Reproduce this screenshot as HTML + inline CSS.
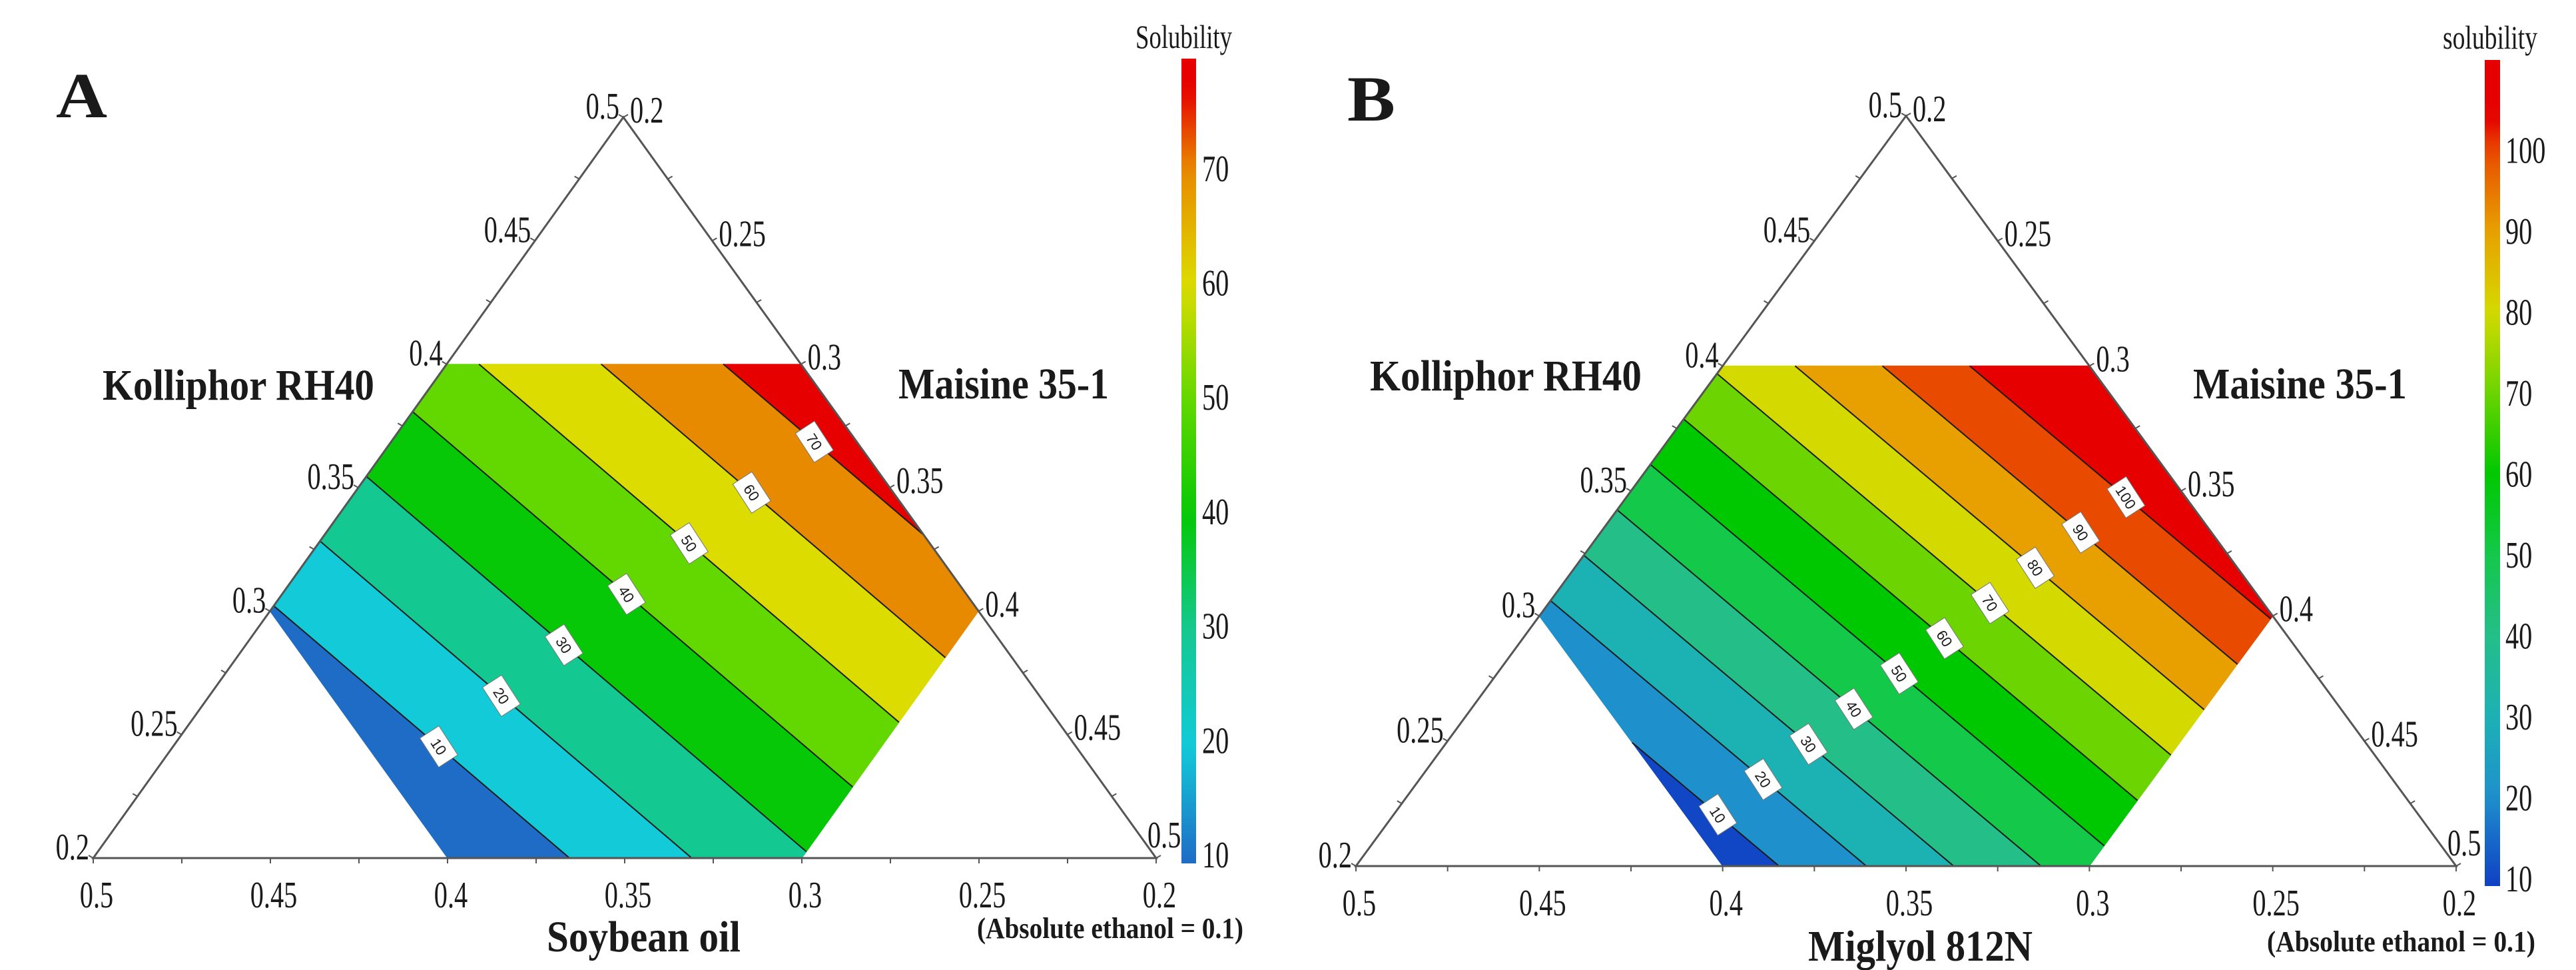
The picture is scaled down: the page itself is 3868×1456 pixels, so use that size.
<!DOCTYPE html>
<html><head><meta charset="utf-8">
<style>
html,body{margin:0;padding:0;background:#fff;}
svg{display:block;}
text{font-family:"Liberation Serif",serif;fill:#1a1a1a;}
</style></head>
<body>
<svg id="fig" width="3868" height="1456" viewBox="0 0 3868 1456" xmlns="http://www.w3.org/2000/svg">
<defs id="defs"></defs>
</svg>
<script>
// ---------- data ----------
const ternaryTicks = [0.2, 0.25, 0.3, 0.35, 0.4, 0.45, 0.5];
const modelA = [180.2, -91.7, -381.7];
const modelB = [263.1, -130.8, -550.8];
const contourLevelsA = [10, 20, 30, 40, 50, 60, 70];
const contourLevelsB = [10, 20, 30, 40, 50, 60, 70, 80, 90, 100];
const colorbarTicksA = [10, 20, 30, 40, 50, 60, 70];
const colorbarTicksB = [10, 20, 30, 40, 50, 60, 70, 80, 90, 100];
const colorbarRangeA = [9.9, 79.6];
const colorbarRangeB = [8.9, 111.2];
const cmapValuesA = [10, 20, 30, 40, 50, 60, 70, 77];
const cmapColorsA = ["#1f6cc6", "#12cad8", "#14c892", "#06c806", "#62d800", "#dcdc00", "#e88a00", "#e60000"];
const cmapValuesB = [9, 20, 30, 40, 50, 60, 70, 80, 90, 100, 104];
const cmapColorsB = ["#1040c4", "#1e90cc", "#1cb2b4", "#24be88", "#14c84a", "#00c800", "#6cd400", "#d4da00", "#e8a000", "#e84a00", "#e60000"];

const NS = "http://www.w3.org/2000/svg";
const svg = document.getElementById('fig');
const defs = document.getElementById('defs');
function el(tag, attrs, parent) {
  const e = document.createElementNS(NS, tag);
  for (const k in attrs) e.setAttribute(k, attrs[k]);
  (parent || svg).appendChild(e);
  return e;
}
function hex2rgb(h){return [parseInt(h.slice(1,3),16),parseInt(h.slice(3,5),16),parseInt(h.slice(5,7),16)];}
function cmap(vals, cols, v) {
  if (v <= vals[0]) return cols[0];
  if (v >= vals[vals.length-1]) return cols[cols.length-1];
  for (let i = 0; i < vals.length-1; i++) {
    if (v >= vals[i] && v <= vals[i+1]) {
      const t = (v-vals[i])/(vals[i+1]-vals[i]);
      const a = hex2rgb(cols[i]), b = hex2rgb(cols[i+1]);
      return 'rgb(' + a.map((x,j)=>Math.round(x+(b[j]-x)*t)).join(',') + ')';
    }
  }
}
function numW(s, fs) { let w = 0; for (const ch of s) w += (ch === '.' ? 0.25 : 0.5); return w*fs*0.72; }

function panel(cfg) {
  const g = el('g', {});
  
  
  const {BL, BR, AP} = cfg;
  const toXY = (K, M, S) => {
    const wK=(K-0.2)/0.3, wM=(M-0.2)/0.3, wS=(S-0.2)/0.3;
    return [wK*AP[0]+wM*BR[0]+wS*BL[0], wK*AP[1]+wM*BR[1]+wS*BL[1]];
  };
  const val = (K, M, S) => cfg.model[0] + cfg.model[1]*M + cfg.model[2]*S;
  const hexC = [[0.4,0.2,0.3],[0.4,0.3,0.2],[0.3,0.4,0.2],[0.2,0.4,0.3],[0.2,0.3,0.4],[0.3,0.2,0.4]];
  const hex = hexC.map(c => { const p = toXY(c[0],c[1],c[2]); return [p[0], p[1], val(c[0],c[1],c[2])]; });
  function clip(poly, lv, keepAbove) {
    const out = [];
    for (let i = 0; i < poly.length; i++) {
      const a = poly[i], b = poly[(i+1)%poly.length];
      const ia = keepAbove ? a[2] >= lv : a[2] < lv;
      const ib = keepAbove ? b[2] >= lv : b[2] < lv;
      if (ia) out.push(a);
      if (ia !== ib) {
        const t = (lv-a[2])/(b[2]-a[2]);
        out.push([a[0]+(b[0]-a[0])*t, a[1]+(b[1]-a[1])*t, lv]);
      }
    }
    return out;
  }
  const lv = cfg.levels;
  const bounds = [-1e9].concat(lv).concat([1e9]);
  const bandsG = el('g', {}, g);
  
  
  for (let i = 0; i < bounds.length-1; i++) {
    let poly = clip(hex, bounds[i], true);
    poly = clip(poly, bounds[i+1], false);
    if (poly.length < 3) continue;
    const colV = i < lv.length ? lv[i] : lv[lv.length-1] + 10;
    const band = el('polygon', {points: poly.map(p=>p[0].toFixed(1)+','+p[1].toFixed(1)).join(' '), fill: cmap(cfg.cv, cfg.cc, colV), stroke: cmap(cfg.cv, cfg.cc, colV), 'stroke-width': 1}, bandsG);
    
    
  }
  for (const L of lv) {
    const pts = [];
    for (let i = 0; i < hex.length; i++) {
      const a = hex[i], b = hex[(i+1)%hex.length];
      if ((a[2]-L)*(b[2]-L) < 0) { const t=(L-a[2])/(b[2]-a[2]); pts.push([a[0]+(b[0]-a[0])*t, a[1]+(b[1]-a[1])*t]); }
    }
    if (pts.length >= 2) {
      const ln = el('line', {x1: pts[0][0], y1: pts[0][1], x2: pts[1][0], y2: pts[1][1], stroke: '#1a1a1a', 'stroke-width': 2}, g);
      
      
    }
  }
  const tri = el('polygon', {points: [BL, BR, AP].map(p=>p.join(',')).join(' '), fill: 'none', stroke: '#555', 'stroke-width': 3}, g);
  
  
  for (let k = 0; k <= 12; k++) {
    const f = k/12;
    const sides = [[BL, BR, [0, 8]], [BL, AP, [-7, -4]], [AP, BR, [7, -4]]];
    for (const s of sides) {
      const x = s[0][0]+(s[1][0]-s[0][0])*f, y = s[0][1]+(s[1][1]-s[0][1])*f;
      const tk = el('line', {x1: x, y1: y, x2: x+s[2][0], y2: y+s[2][1], stroke: '#555', 'stroke-width': 2}, g);
      
      
    }
  }
  const fs = 56;
  for (const t of ternaryTicks) {
    const s = String(t);
    const w = numW(s, fs);
    const pl = toXY(t, 0.2, 0.7 - t);
    const tl = el('text', {x: pl[0]-6-w, y: pl[1]+2, 'font-size': fs, textLength: w, lengthAdjust: 'spacingAndGlyphs'}, g);
    tl.textContent = s;
    
    
    const pr = toXY(0.7 - t, t, 0.2);
    const last = t === 0.5;
    const tr = el('text', {x: pr[0] + (last ? -13 : 10), y: pr[1] + (last ? -16 : 8), 'font-size': fs, textLength: w, lengthAdjust: 'spacingAndGlyphs'}, g);
    tr.textContent = s;
    
    
    const pb = toXY(0.2, 0.7 - t, t);
    const tb = el('text', {x: pb[0]+5-w/2, y: pb[1]+74, 'font-size': fs, textLength: w, lengthAdjust: 'spacingAndGlyphs'}, g);
    tb.textContent = s;
    
    
  }
  const bary = (x, y) => {
    const ax = AP[0]-BL[0], ay = AP[1]-BL[1], bx = BR[0]-BL[0], by = BR[1]-BL[1];
    const dx = x-BL[0], dy = y-BL[1];
    const det = ax*by - ay*bx;
    const wK = (dx*by - dy*bx)/det, wM = (ax*dy - ay*dx)/det;
    const wS = 1-wK-wM;
    return val(0.2+0.3*wK, 0.2+0.3*wM, 0.2+0.3*wS);
  };
  const G0 = cfg.guide[0], G1 = cfg.guide[1];
  const v0 = bary(G0[0], G0[1]), v1 = bary(G1[0], G1[1]);
  for (const L of lv) {
    const t = (L-v0)/(v1-v0);
    const x = G0[0]+(G1[0]-G0[0])*t, y = G0[1]+(G1[1]-G0[1])*t;
    const lg = el('g', {transform: 'translate(' + x.toFixed(1) + ',' + y.toFixed(1) + ') rotate(57)'}, g);
    
    
    el('rect', {x: -26, y: -17, width: 52, height: 34, fill: '#fff', stroke: '#777', 'stroke-width': 1}, lg);
    const lt = el('text', {x: 0, y: 8, 'font-size': 22, 'text-anchor': 'middle', style: 'font-family:"Liberation Sans",sans-serif', fill: '#555'}, lg);
    lt.textContent = String(L);
  }
  for (const tx of cfg.texts) {
    const t = el('text', {x: tx[1], y: tx[2], 'font-size': tx[3], 'font-weight': tx[4] ? 'bold' : 'normal', textLength: tx[5], lengthAdjust: 'spacingAndGlyphs'}, g);
    t.textContent = tx[0];
    
    
  }
  // colorbar
  const cb = cfg.cbar;
  const gid = cfg.name + '-grad';
  const grad = el('linearGradient', {id: gid, x1: 0, y1: cb.y1, x2: 0, y2: cb.y0, gradientUnits: 'userSpaceOnUse'}, defs);
  for (let i = 0; i <= 40; i++) {
    const v = cfg.range[0] + (cfg.range[1]-cfg.range[0])*i/40;
    el('stop', {offset: (i/40).toFixed(3), 'stop-color': cmap(cfg.cv, cfg.cc, v)}, grad);
  }
  const bar = el('rect', {x: cb.x, y: cb.y0, width: cb.w, height: cb.y1-cb.y0, fill: 'url(#' + gid + ')'}, g);
  
  
  for (let i = 0; i < cfg.cticks.length; i++) {
    const v = cfg.cticks[i];
    const yy = cb.ly10 - (v - 10) / 10 * cb.step + 19;
    const tg = el('g', {transform: 'translate(' + cb.lx + ',' + yy.toFixed(1) + ') scale(0.72,1)'}, g);
    
    
    const ct = el('text', {x: 0, y: 0, 'font-size': 56}, tg);
    ct.textContent = String(v);
  }
}

panel({
  name: 'panel-a', BL: [140,1288], BR: [1736,1288], AP: [936,176],
  model: modelA, levels: contourLevelsA, cv: cmapValuesA, cc: cmapColorsA,
  range: colorbarRangeA, cticks: colorbarTicksA,
  guide: [[651,1127],[1229,658]],
  cbar: {x: 1774, w: 22, y0: 88, y1: 1296, lx: 1805, ly10: 1283, step: 171.7},
  texts: [
    ['A', 84, 176, 96, true, 77, 'panel-label-a'],
    ['Kolliphor RH40', 154, 600, 66, true, 408, 'kolliphor-axis-title'],
    ['Maisine 35-1', 1349, 598, 66, true, 316, 'maisine-axis-title'],
    ['Soybean oil', 821, 1428, 66, true, 291, 'soybean-oil-axis-title'],
    ['(Absolute ethanol = 0.1)', 1467, 1408, 44, true, 400, 'ethanol-note'],
    ['Solubility', 1705, 72, 50, false, 145, 'colorbar-title']
  ]
});
panel({
  name: 'panel-b', BL: [2036,1300], BR: [3688,1300], AP: [2862,174],
  model: modelB, levels: contourLevelsB, cv: cmapValuesB, cc: cmapColorsB,
  range: colorbarRangeB, cticks: colorbarTicksB,
  guide: [[2574,1227],[3194,745]],
  cbar: {x: 3731, w: 23, y0: 90, y1: 1330, lx: 3762, ly10: 1319, step: 121.5},
  texts: [
    ['B', 2023, 181, 96, true, 72, 'panel-label-b'],
    ['Kolliphor RH40', 2057, 586, 66, true, 408, 'kolliphor-axis-title'],
    ['Maisine 35-1', 3293, 598, 66, true, 321, 'maisine-axis-title'],
    ['Miglyol 812N', 2715, 1442, 66, true, 337, 'miglyol-axis-title'],
    ['(Absolute ethanol = 0.1)', 3404, 1428, 44, true, 403, 'ethanol-note'],
    ['solubility', 3668, 73, 50, false, 142, 'colorbar-title']
  ]
});
</script>
</body></html>
